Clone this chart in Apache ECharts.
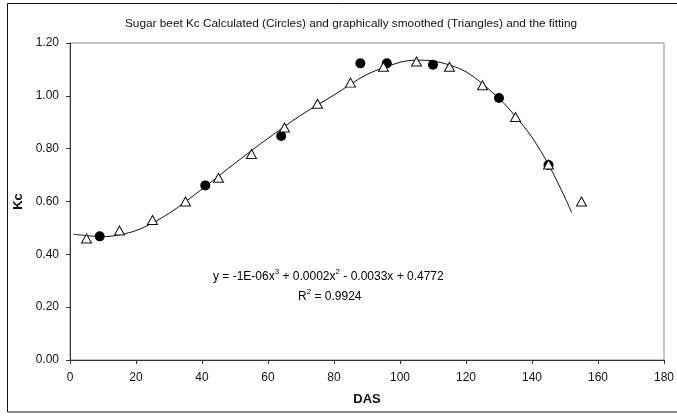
<!DOCTYPE html>
<html>
<head>
<meta charset="utf-8">
<script src="https://cdn.jsdelivr.net/npm/echarts@6/dist/echarts.min.js"></script>
<style>
html,body{margin:0;padding:0;background:#fff;}
#chart{width:677px;height:416px;}
</style>
</head>
<body>
<div id="chart"></div>
<script>
// Graphically smoothed Kc (triangles)
const smoothDAS = [5, 15, 25, 35, 45, 55, 65, 75, 85, 95, 105, 115, 125, 135, 145, 155];
const smoothKc  = [0.46, 0.49, 0.53, 0.60, 0.69, 0.78, 0.88, 0.97, 1.05, 1.11, 1.13, 1.11, 1.04, 0.92, 0.74, 0.60];
// Calculated Kc (circles)
const calcDAS = [9, 41, 64, 88, 96, 110, 130, 145];
const calcKc  = [0.468, 0.661, 0.848, 1.123, 1.123, 1.118, 0.992, 0.738];
// Fitted trend line
const fitDAS = [1, 10, 20, 30, 40, 50, 60, 70, 80, 90, 100, 105, 110, 120, 130, 135, 140, 145, 150, 152];
const fitKc  = [0.476, 0.467, 0.49, 0.555, 0.647, 0.745, 0.839, 0.927, 1.003, 1.081, 1.127, 1.135, 1.132, 1.091, 0.99, 0.922, 0.843, 0.74, 0.615, 0.558];
// Axis ticks
const xTicks = {min: 0, max: 180, interval: 20};
const yTicks = {min: 0, max: 1.2, interval: 0.2};

const titleText = 'Sugar beet Kc Calculated (Circles) and graphically smoothed (Triangles) and the fitting';
const font = 'Liberation Sans, Arial, sans-serif';

const zip = (a, b) => a.map((v, i) => [v, b[i]]);

const chart = echarts.init(document.getElementById('chart'), null, {renderer: 'canvas'});
const rich = {
  n: {fontFamily: font, fontSize: 12, lineHeight: 15, color: '#111', verticalAlign: 'bottom'},
  s: {fontFamily: font, fontSize: 8, lineHeight: 9, color: '#111', verticalAlign: 'top'}
};
chart.setOption({
  animation: false,
  backgroundColor: '#fff',
  title: {
    text: titleText,
    left: 346, top: 13, textAlign: 'center',
    textStyle: {fontFamily: font, fontSize: 11.8, fontWeight: 'normal', color: '#111'}
  },
  grid: {left: 70, right: 7, top: 43, bottom: 56, show: true, borderColor: '#8a8a8a', borderWidth: 1, backgroundColor: 'transparent'},
  xAxis: {
    type: 'value', min: xTicks.min, max: xTicks.max, interval: xTicks.interval,
    name: 'DAS', nameLocation: 'middle', nameGap: 33,
    nameTextStyle: {fontFamily: font, fontSize: 13, fontWeight: 'bold', color: '#111'},
    axisLine: {show: true, onZero: false, lineStyle: {color: '#333', width: 1}},
    axisTick: {show: true, length: 4, lineStyle: {color: '#333'}},
    axisLabel: {fontFamily: font, fontSize: 12, color: '#111', margin: 12},
    splitLine: {show: false}
  },
  yAxis: {
    type: 'value', min: yTicks.min, max: yTicks.max, interval: yTicks.interval,
    name: 'Kc', nameLocation: 'middle', nameGap: 43,
    nameTextStyle: {fontFamily: font, fontSize: 13, fontWeight: 'bold', color: '#111'},
    axisLine: {show: true, onZero: false, lineStyle: {color: '#333', width: 1}},
    axisTick: {show: true, length: 4, lineStyle: {color: '#333'}},
    axisLabel: {fontFamily: font, fontSize: 12, color: '#111', margin: 11, formatter: v => v.toFixed(2)},
    splitLine: {show: false}
  },
  series: [
    {
      type: 'line', data: zip(fitDAS, fitKc), smooth: 0.3, showSymbol: false,
      lineStyle: {color: '#111', width: 1}, z: 1, silent: true
    },
    {
      type: 'scatter', data: zip(calcDAS, calcKc), symbol: 'circle', symbolSize: 10,
      itemStyle: {color: '#000', opacity: 1}, z: 2
    },
    {
      type: 'scatter', data: zip(smoothDAS, smoothKc), symbol: 'triangle', symbolSize: [10, 9],
      itemStyle: {color: '#fff', borderColor: '#111', borderWidth: 1, opacity: 1}, z: 3
    }
  ],
  graphic: [
    {type: 'rect', shape: {x: 7.5, y: 3.5, width: 690, height: 408.5}, style: {fill: 'none', stroke: '#111', lineWidth: 1}, silent: true, z: 0},
    {type: 'text', left: 213, top: 268, style: {text: '{n|y = -1E-06x}{s|3}{n| + 0.0002x}{s|2}{n| - 0.0033x + 0.4772}', rich: rich}, z: 10},
    {type: 'text', left: 298, top: 288, style: {text: '{n|R}{s|2}{n| = 0.9924}', rich: rich}, z: 10}
  ]
});
</script>
</body>
</html>
